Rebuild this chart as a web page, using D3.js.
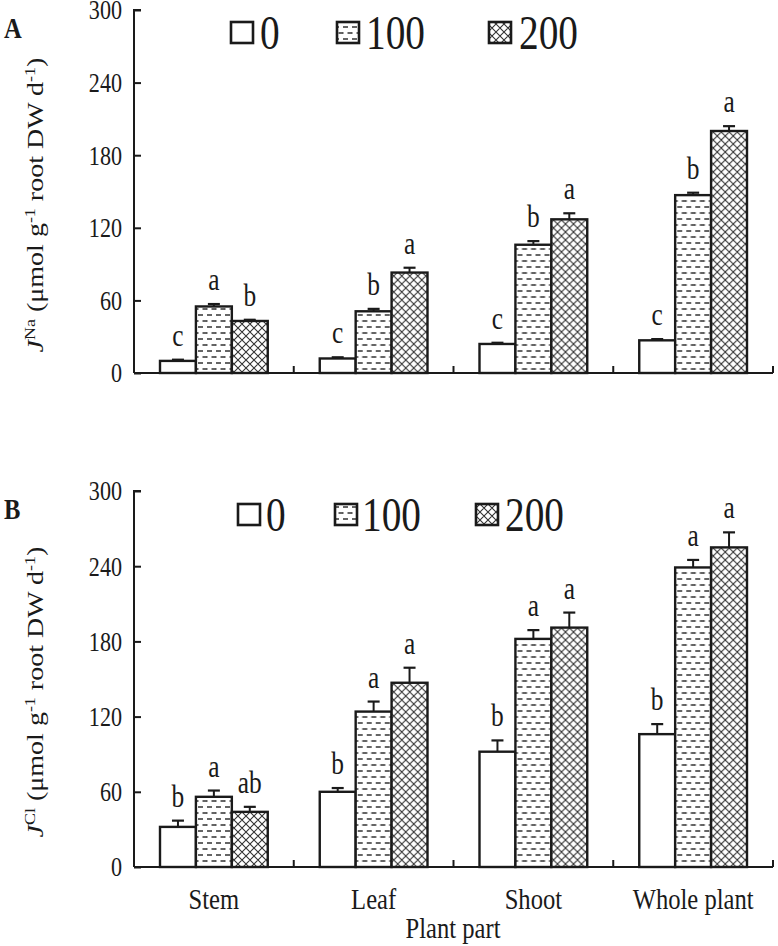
<!DOCTYPE html>
<html><head><meta charset="utf-8">
<script src="https://cdn.jsdelivr.net/npm/d3@7"></script>
<style>body{margin:0;background:#fff}</style>
</head><body>
<svg id="c" width="778" height="946"></svg>
<script>
const categories = ["Stem","Leaf","Shoot","Whole plant"];
const series = ["0","100","200"];
const yTicks = [0,60,120,180,240,300];
// Panel A: J Na
const naValues = [[10,55,43],[12,51,83],[24,106,127],[27,147,200]];
const naErrors = [[1,2,1],[1,2,4],[1,3,5],[1,2,4]];
const naLetters = [["c","a","b"],["c","b","a"],["c","b","a"],["c","b","a"]];
// Panel B: J Cl
const clValues = [[32,56,44],[60,124,147],[92,182,191],[106,239,255]];
const clErrors = [[5,5,4],[3,8,12],[9,7,12],[8,6,12]];
const clLetters = [["b","a","ab"],["b","a","a"],["b","a","a"],["b","a","a"]];

const svg = d3.select("#c");
const font = "'Liberation Serif','Times New Roman',serif";
const SQ = 0.82; // horizontal squish of the text in the reference
const ink = "#1a1a1a";
const defs = svg.append("defs");

function stext(parent, x, y, str, size, anchor){
  return parent.append("text").attr("transform",`translate(${x},${y}) scale(${SQ},1)`)
    .attr("text-anchor",anchor||"start").attr("font-family",font).attr("font-size",size)
    .attr("fill",ink).text(str);
}

// dashed pattern
const pd = defs.append("pattern").attr("id","dash").attr("patternUnits","userSpaceOnUse")
  .attr("width",9).attr("height",12);
pd.append("rect").attr("width",9).attr("height",12).attr("fill","#fff");
pd.append("line").attr("x1",1).attr("x2",6).attr("y1",3).attr("y2",3).attr("stroke","#222").attr("stroke-width",1.4);
pd.append("line").attr("x1",5.5).attr("x2",10.5).attr("y1",9).attr("y2",9).attr("stroke","#222").attr("stroke-width",1.4);
pd.append("line").attr("x1",-3.5).attr("x2",1.5).attr("y1",9).attr("y2",9).attr("stroke","#222").attr("stroke-width",1.4);
// crosshatch pattern
const pc = defs.append("pattern").attr("id","cross").attr("patternUnits","userSpaceOnUse")
  .attr("width",8).attr("height",8);
pc.append("rect").attr("width",8).attr("height",8).attr("fill","#fff");
pc.append("path").attr("d","M0,0L8,8M8,0L0,8M-4,4L4,12M4,-4L12,4M-4,4L4,-4M4,12L12,4").attr("stroke","#333").attr("stroke-width",1.1);
const fills = ["#fff","url(#dash)","url(#cross)"];

function panel(cfg){
  const {top, bottom, values, errors, letters, label, ion, legend} = cfg;
  const left = 134, right = 773;
  const g = svg.append("g");
  const y = d3.scaleLinear().domain([0,300]).range([bottom, top]);
  const x0 = d3.scaleBand().domain(categories).range([left,right]).padding(0);
  const x1 = d3.scaleBand().domain(series).range([26, x0.bandwidth()-26]).padding(0);

  categories.forEach((c,i)=>{
    const gg = g.append("g").attr("transform",`translate(${x0(c)},0)`);
    series.forEach((s,j)=>{
      const v = values[i][j], e = errors[i][j];
      const bx = x1(s), bw = x1.bandwidth();
      gg.append("line").attr("x1",bx+bw/2).attr("x2",bx+bw/2).attr("y1",y(v)).attr("y2",y(v+e))
        .attr("stroke",ink).attr("stroke-width",2);
      gg.append("line").attr("x1",bx+bw/2-6).attr("x2",bx+bw/2+6).attr("y1",y(v+e)).attr("y2",y(v+e))
        .attr("stroke",ink).attr("stroke-width",2.2);
      gg.append("rect").attr("x",bx).attr("y",y(v)).attr("width",bw).attr("height",y(0)-y(v))
        .attr("fill",fills[j]).attr("stroke",ink).attr("stroke-width",2.4);
      stext(gg, bx+bw/2, y(v+e)-14, letters[i][j], 31, "middle");
    });
  });

  // y axis
  const ya = g.append("g").attr("transform",`translate(${left},0)`)
    .call(d3.axisRight(y).tickValues(yTicks).tickSize(7).tickFormat(d3.format("d")));
  ya.select(".domain").attr("d",`M7,${top}H0V${bottom}`).attr("stroke",ink).attr("stroke-width",2);
  ya.selectAll(".tick line").attr("stroke",ink).attr("stroke-width",2);
  ya.selectAll(".tick text").attr("x",-12/SQ).attr("text-anchor","end").attr("font-family",font)
    .attr("transform",`scale(${SQ},1)`)
    .attr("font-size",27).attr("fill",ink).attr("dy","0.33em");

  // x axis
  const xa = g.append("g").attr("transform",`translate(0,${bottom})`)
    .call(d3.axisTop(x0).tickValues([]).tickSizeOuter(0));
  xa.select(".domain").attr("d",`M${left},0H${right}`).attr("stroke",ink).attr("stroke-width",2.2);
  categories.forEach(c=>{
    xa.append("line").attr("x1",x0(c)+x0.bandwidth()).attr("x2",x0(c)+x0.bandwidth())
      .attr("y1",0).attr("y2",-7).attr("stroke",ink).attr("stroke-width",2);
  });

  // panel label
  stext(svg, 4, top+28, label, 30).attr("font-weight","bold");

  // y title
  const t = svg.append("text").attr("transform",`translate(43,${cfg.titleY}) scale(${SQ},1) rotate(-90)`)
    .attr("text-anchor","middle").attr("font-family",font).attr("font-size",28).attr("fill",ink);
  t.append("tspan").attr("font-style","italic").text("J");
  t.append("tspan").attr("font-size",18).attr("dy",-10).text(ion);
  t.append("tspan").attr("dy",10).text(" (μmol g");
  t.append("tspan").attr("font-size",18).attr("dy",-10).text("-1");
  t.append("tspan").attr("dy",10).text(" root DW d");
  t.append("tspan").attr("font-size",18).attr("dy",-10).text("-1");
  t.append("tspan").attr("dy",10).text(")");

  // legend
  series.forEach((s,j)=>{
    svg.append("rect").attr("x",legend.bx[j]).attr("y",legend.y-27).attr("width",22).attr("height",21)
      .attr("fill",fills[j]).attr("stroke",ink).attr("stroke-width",2.6);
    stext(svg, legend.tx[j], legend.y, s, 48);
  });
  return {x0};
}

const pA = panel({top:10,bottom:373,values:naValues,errors:naErrors,letters:naLetters,label:"A",ion:"Na",
  titleY:205, legend:{y:49, bx:[231,337,489], tx:[260,366,519]}});
const pB = panel({top:491,bottom:867,values:clValues,errors:clErrors,letters:clLetters,label:"B",ion:"Cl",
  titleY:692, legend:{y:531, bx:[238,335,476], tx:[266,362,505]}});

categories.forEach(c=>{
  stext(svg, pB.x0(c)+pB.x0.bandwidth()/2, 909, c, 30, "middle");
});
stext(svg, 453, 938, "Plant part", 30, "middle");
</script>
</body></html>
